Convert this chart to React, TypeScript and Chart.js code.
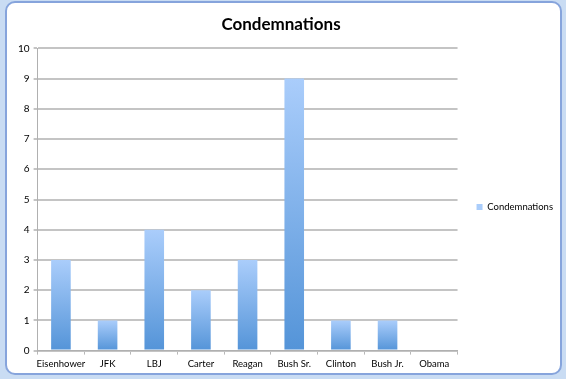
import React, { useEffect, useRef } from "react";
import { Chart, registerables } from "chart.js";

Chart.register(...registerables);

const categories = ["Eisenhower", "JFK", "LBJ", "Carter", "Reagan", "Bush Sr.", "Clinton", "Bush Jr.", "Obama"];
const condemnations = [3, 1, 4, 2, 3, 9, 1, 1, 0];
const seriesLabel = "Condemnations";
const titleText = "Condemnations";

const FONT = "Lato, 'DejaVu Sans', sans-serif";

const legendNudge = {
  id: "legendNudge",
  afterLayout(chart: any) {
    const lg = chart.legend;
    if (!lg) return;
    const dx = 15;
    const dy = 15;
    lg.left += dx;
    lg.right += dx;
    lg.top += dy;
    lg.bottom += dy;
  },
};

export default function App() {
  const ref = useRef<HTMLCanvasElement | null>(null);

  useEffect(() => {
    if (!ref.current) return;
    const chart = new Chart(ref.current, {
      type: "bar",
      data: {
        labels: categories,
        datasets: [
          {
            label: seriesLabel,
            data: condemnations,
            backgroundColor: (ctx: any) => {
              const ch = ctx.chart;
              const y = ch.scales && ch.scales.y;
              if (ctx.type !== "data" || !y) return "#6fa5e6";
              const top = y.getPixelForValue(ctx.raw);
              const base = y.getPixelForValue(0);
              if (!isFinite(top) || !isFinite(base) || top === base) return "#6fa5e6";
              const g = ch.ctx.createLinearGradient(0, top, 0, base);
              g.addColorStop(0, "#aacdfb");
              g.addColorStop(1, "#5494d8");
              return g;
            },
            borderWidth: 0,
            categoryPercentage: 1,
            barPercentage: 0.42,
          },
        ],
      },
      plugins: [legendNudge],
      options: {
        animation: false,
        responsive: false,
        devicePixelRatio: 1,
        layout: { padding: { left: 14, right: 18, top: 10, bottom: 5 } },
        plugins: {
          title: {
            display: true,
            text: titleText,
            color: "#000",
            font: { family: FONT, size: 17, weight: "bold" },
            padding: { top: 4, bottom: 14 },
          },
          legend: {
            display: true,
            position: "right",
            labels: {
              boxWidth: 6,
              boxHeight: 6,
              padding: 4,
              color: "#000",
              font: { family: FONT, size: 9.5 },
            },
          },
          tooltip: { enabled: false },
        },
        scales: {
          x: {
            grid: {
              display: true,
              drawOnChartArea: false,
              drawTicks: true,
              tickLength: 4,
              color: "#b8b8b8",
            },
            border: { display: true, color: "#b0b0b0", width: 1 },
            ticks: {
              color: "#000",
              font: { family: FONT, size: 9.5 },
              maxRotation: 0,
              autoSkip: false,
              padding: 4,
            },
          },
          y: {
            min: 0,
            max: 10,
            ticks: {
              stepSize: 1,
              color: "#000",
              font: { family: FONT, size: 10 },
              padding: 4,
            },
            grid: {
              color: "#c4c4c4",
              lineWidth: 2,
              drawTicks: true,
              tickLength: 4,
            },
            border: { display: true, color: "#b0b0b0", width: 1 },
          },
        },
      },
    });
    return () => chart.destroy();
  }, []);

  return (
    <div
      style={{
        position: "fixed",
        left: 0,
        top: 0,
        width: 566,
        height: 379,
        background: "#c9dcf3",
        overflow: "hidden",
      }}
    >
      <div
        style={{
          position: "absolute",
          left: 5,
          top: 1,
          width: 553,
          height: 370,
          background: "#ffffff",
          border: "2px solid #86a4dc",
          borderRadius: 10,
        }}
      />
      <canvas
        ref={ref}
        width={566}
        height={379}
        style={{ position: "absolute", left: 0, top: 0, width: 566, height: 379 }}
      />
    </div>
  );
}
